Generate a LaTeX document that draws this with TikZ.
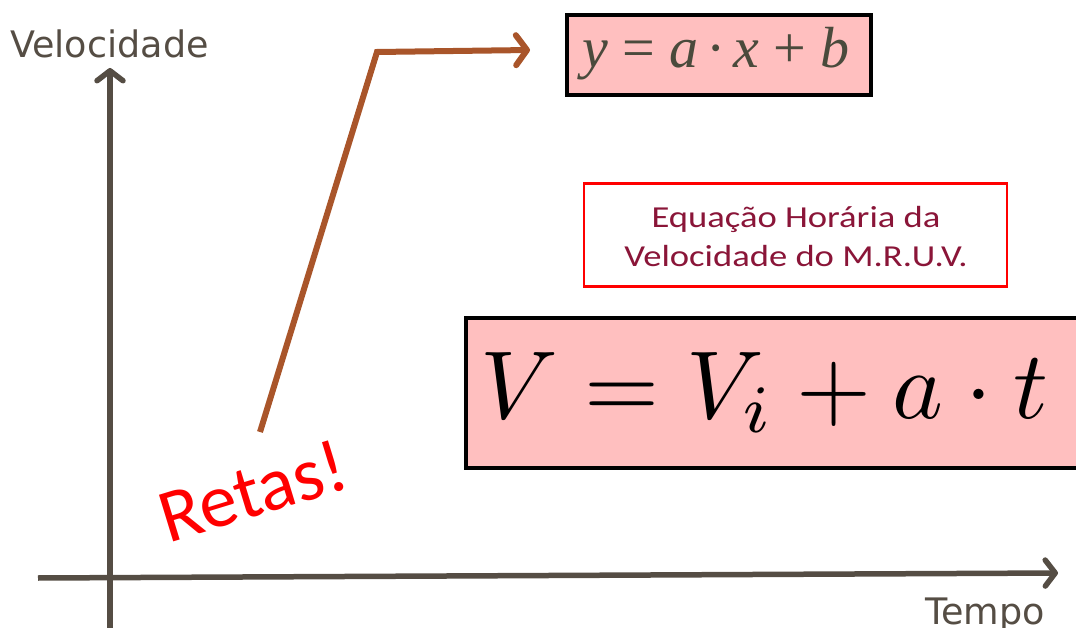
\documentclass[tikz,border=0pt]{standalone}
\usepackage{graphicx}
\usepackage{fontspec}
\newfontfamily\axisfont{DejaVu Sans}
\newfontfamily\boxfont[FakeStretch=1.2]{Carlito}
\newfontfamily\retasfont{Carlito}
\newfontfamily\eqfont{Liberation Serif}
\usetikzlibrary{arrows.meta}
\definecolor{axisc}{HTML}{554D44}
\definecolor{brownc}{HTML}{A9552A}
\definecolor{pinkc}{HTML}{FFBFBF}
\definecolor{maroonc}{HTML}{8A1538}
\definecolor{eqgray}{HTML}{4A4A3C}
\tikzset{
  axisline/.style={draw=axisc, line width=5.5, -{Straight Barb[length=10pt,width=26pt,round]}},
  axislabel/.style={text=axisc, inner sep=0, font=\axisfont\fontsize{36.5}{40}\selectfont},
  pinkbox/.style={draw=black, fill=pinkc, line width=3.5, inner sep=0},
  titlebox/.style={draw=red, line width=2.5, fill=white, inner sep=0},
  titletext/.style={text=maroonc, inner sep=0, font=\boxfont\fontsize{30.5}{34}\selectfont},
  bentarrow/.style={draw=brownc, line width=6, line join=miter, -{Straight Barb[length=11pt,width=30pt,round]}},
}
\newcommand{\eqgap}{\hspace{14pt}}
\begin{document}
\begin{tikzpicture}[x=1pt,y=-1pt]
\useasboundingbox (0,0) rectangle (1076,628);
% axes
\coordinate (yb) at (110,640);
\coordinate (yt) at (110,68);
\coordinate (xl) at (38,578);
\coordinate (xr) at (1058,573);
\draw[axisline] (yb) -- (yt);
\draw[axisline] (xl) -- (xr);
\node[axislabel, anchor=base west] (vel) at (10,58) {Velocidade};
\node[axislabel, anchor=base west] (tempo) at (925,624) {Tempo};
% bent brown arrow
\coordinate (b1) at (260,432);
\coordinate (b2) at (377,52);
\coordinate (b3) at (530,50);
\draw[bentarrow] (b1) -- (b2) -- (b3);
% y = a x + b box
\node[pinkbox, minimum width=304, minimum height=80] (eqbox) at (719,55) {};
\node[anchor=base, inner sep=0, text=eqgray, font=\eqfont\fontsize{58}{60}\selectfont] (eqtext) at (716,68)
  {\itshape y\eqgap\upshape=\eqgap\itshape a\hspace{8pt}\upshape·\hspace{8pt}\itshape x\eqgap\upshape+\eqgap\itshape b};
% title box
\node[titlebox, minimum width=423, minimum height=103] (title) at (795.5,235) {};
\node[titletext, anchor=base] (t1) at (796,228) {Equação Horária da};
\node[titletext, anchor=base] (t2) at (796,267) {Velocidade do M.R.U.V.};
% big formula box
\node[pinkbox, minimum width=619, minimum height=150] (bigbox) at (775.5,393) {};
\node[anchor=base west, inner sep=0] (formula) at (480,418) {\scalebox{9.65}{$V = V_i + a\cdot t$}};
% Retas!
\node[rotate=17, text=red, inner sep=0, font=\retasfont\fontsize{76}{80}\selectfont] (retas) at (253,491) {Retas!};
\end{tikzpicture}
\end{document}
